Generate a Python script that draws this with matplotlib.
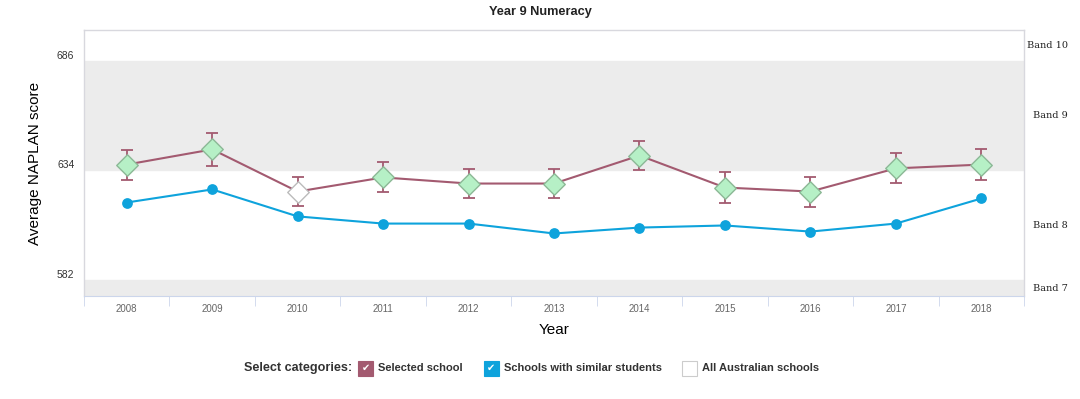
from matplotlib import pyplot as plt
import matplotlib.transforms as mtransforms
from matplotlib.patches import Rectangle

plt.rcParams["font.family"] = ["Liberation Sans", "DejaVu Sans"]

years = ["2008", "2009", "2010", "2011", "2012", "2013", "2014", "2015", "2016", "2017", "2018"]
selected_school = [636.8, 644.0, 624.0, 630.7, 627.8, 627.8, 641.1, 625.9, 624.0, 635.0, 636.8]
selected_err = [7.1, 8.0, 7.0, 7.1, 7.1, 7.1, 7.1, 7.3, 7.1, 7.1, 7.3]
# 2010 is drawn with a white (not significant) marker
selected_highlight = [True, True, False, True, True, True, True, True, True, True, True]
similar_schools = [618.8, 625.0, 612.2, 608.8, 608.8, 604.1, 606.9, 607.9, 605.0, 608.8, 620.7]

band_ticks = [686, 634, 582]
band_names = ["Band 10", "Band 9", "Band 8", "Band 7"]
y_min, y_max = 574.4, 700.7

maroon = "#a35a70"
blue = "#0ea3dc"
shade = "#ececec"

fig = plt.figure(figsize=(10.8, 3.99), dpi=100)
ax = fig.add_axes([0.0778, 0.258, 0.8704, 0.667])
ax.set_xlim(-0.5, len(years) - 0.5)
ax.set_ylim(y_min, y_max)

# band shading
ax.axhspan(band_ticks[1], band_ticks[0], color=shade, zorder=0)
ax.axhspan(y_min, band_ticks[2], color=shade, zorder=0)

x = list(range(len(years)))

# similar schools
ax.plot(x, similar_schools, color=blue, lw=1.5, zorder=2)
ax.scatter(x, similar_schools, s=60, color=blue, zorder=3, linewidths=0)

# selected school
ax.errorbar(x, selected_school, yerr=selected_err, fmt="none", ecolor=maroon,
            elinewidth=1.3, capsize=4, capthick=1.3, zorder=3)
ax.plot(x, selected_school, color=maroon, lw=1.5, zorder=4)
for xi, yi, hl in zip(x, selected_school, selected_highlight):
    fc = "#b6f0c6" if hl else "white"
    ec = "#8cb896" if hl else "#bbbbbb"
    ax.scatter([xi], [yi], s=120, marker="D", facecolor=fc, edgecolor=ec, linewidths=1, zorder=5)

# axes styling
for side in ["top", "left", "right"]:
    ax.spines[side].set_color("#d8d8de")
    ax.spines[side].set_linewidth(1)
ax.spines["bottom"].set_color("#ccd6eb")

ax.set_yticks(band_ticks)
ax.set_yticklabels([str(t) for t in band_ticks], fontsize=7.5, color="#333333")
ax.tick_params(axis="y", length=0, pad=7)
offset = mtransforms.ScaledTranslation(0, 0.06, fig.dpi_scale_trans)
for lab in ax.get_yticklabels():
    lab.set_transform(lab.get_transform() + offset)

ax.set_xticks(x)
ax.set_xticklabels(years, fontsize=7, color="#666666")
ax.tick_params(axis="x", length=0, pad=6)
ax.set_xticks([i - 0.5 for i in range(len(years) + 1)], minor=True)
ax.tick_params(axis="x", which="minor", length=7, color="#ccd6eb", direction="out")

ax.set_ylabel("Average NAPLAN score", fontsize=11, labelpad=11)
ax.set_xlabel("Year", fontsize=11, labelpad=6)
fig.text(0.5, 0.97, "Year 9 Numeracy", fontsize=9.2, fontweight="bold", ha="center", va="center",
         color="#222222")

# band labels on the right
band_mids = [(band_ticks[0] + y_max) / 2, (band_ticks[0] + band_ticks[1]) / 2,
             (band_ticks[1] + band_ticks[2]) / 2, (band_ticks[2] + y_min) / 2]
trans = mtransforms.blended_transform_factory(ax.transAxes, ax.transData)
for name, mid in zip(band_names, band_mids):
    dx = 1.003 if name == "Band 10" else 1.009
    ax.text(dx, mid, name, transform=trans, fontsize=7, family="DejaVu Serif",
            va="center", ha="left", color="#222222")

# legend row
fig.text(0.226, 0.077, "Select categories:", fontsize=9.1, fontweight="bold", color="#333333", va="center")
legend_items = [("Selected school", maroon, 0.3315), ("Schools with similar students", blue, 0.448),
                ("All Australian schools", None, 0.6315)]
box_w, box_h = 15 / 1080, 15 / 399
for label, col, bx in legend_items:
    fc = col if col else "white"
    ec = col if col else "#cccccc"
    fig.patches.append(Rectangle((bx, 0.077 - box_h / 2), box_w, box_h, transform=fig.transFigure,
                                 facecolor=fc, edgecolor=ec, lw=0.8))
    if col:
        fig.text(bx + box_w / 2, 0.077, "\u2714", fontsize=7, color="white", ha="center", va="center",
                 family="DejaVu Sans")
    fig.text(bx + box_w + 0.005, 0.077, label, fontsize=8, fontweight="bold", color="#333333", va="center")

fig.savefig("out.png", dpi=100)
